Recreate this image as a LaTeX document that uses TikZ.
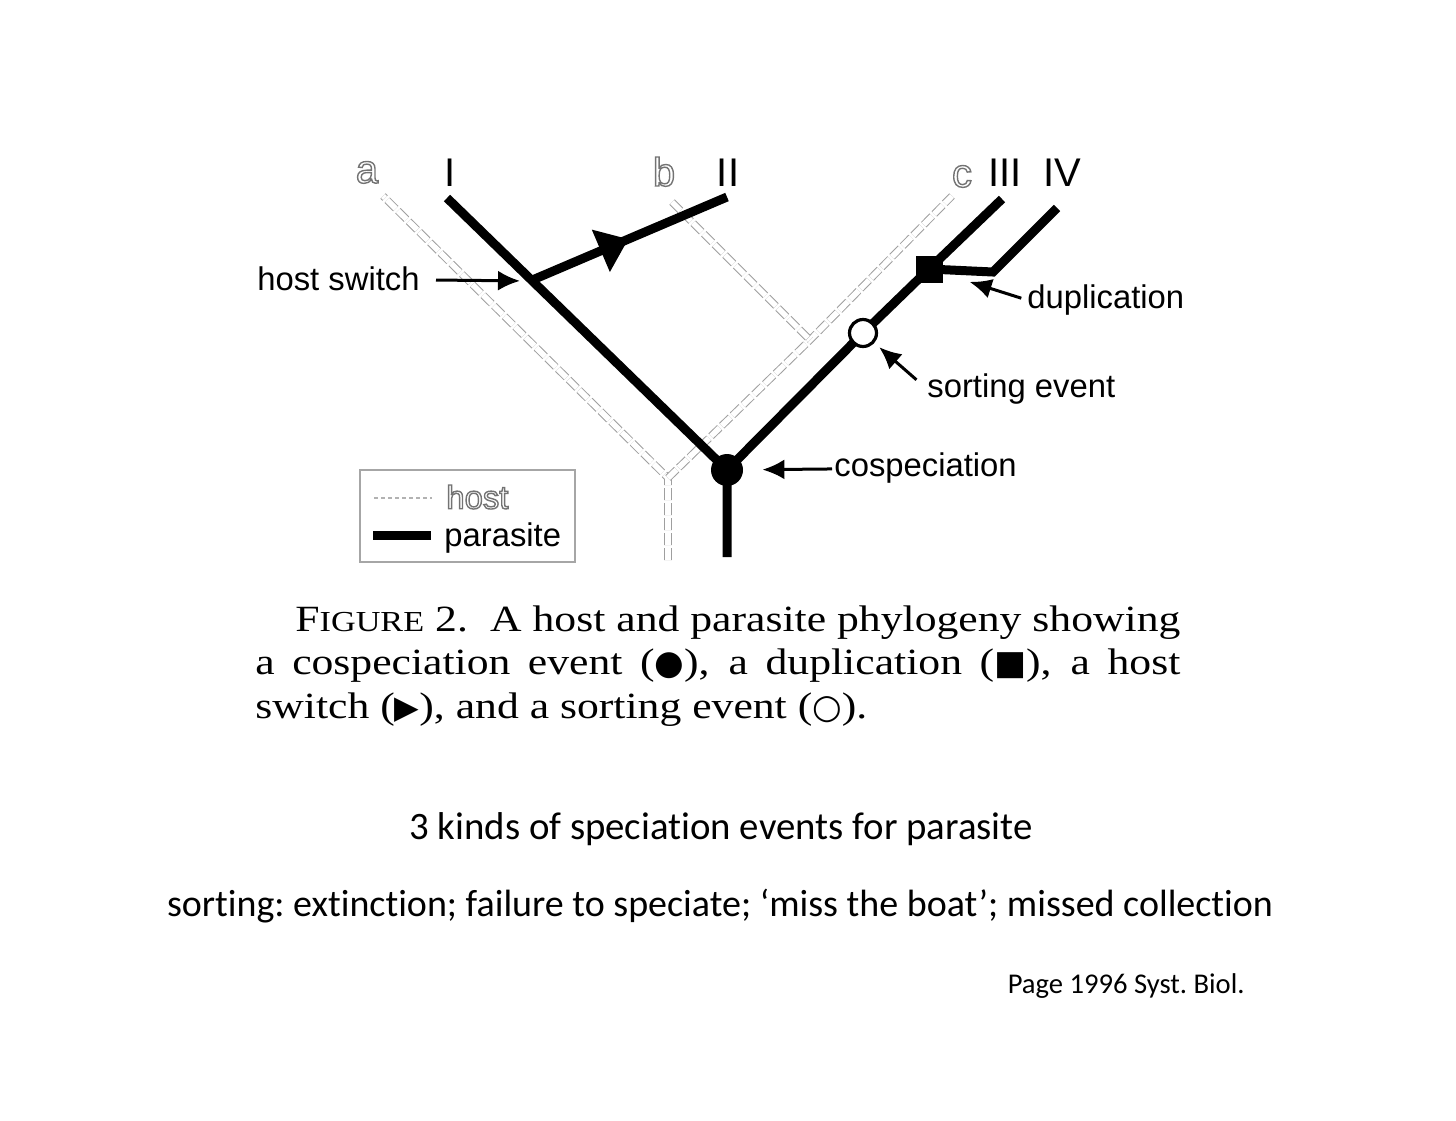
\documentclass[tikz,border=0pt]{standalone}
\usepackage{fontspec}
\newfontfamily\figfont{Liberation Sans}
\newfontfamily\capfont[FakeStretch=1.18]{Liberation Serif}
\newfontfamily\symfont{DejaVu Sans}
\newfontfamily\slidefont[Ligatures=NoCommon]{Carlito}
\usetikzlibrary{arrows.meta,decorations.markings}
\newcommand{\hollow}[1]{\special{pdf:code q 1 Tr 0.7 w 0.45 G}#1\special{pdf:code Q}}

\tikzset{
  parasite/.style={line width=4.5pt},
  host/.style={draw=gray!75, line width=0.5pt, double=white, double distance=2.8pt, dash pattern=on 6pt off 1.5pt},
  taxon/.style={font=\figfont\fontsize{20}{20}\selectfont, inner sep=0pt, anchor=base},
  evlabel/.style={font=\figfont\fontsize{16.4}{18}\selectfont, inner sep=0pt},
  callout/.style={-{Latex[length=11pt,width=10pt]}, line width=1.5pt},
  switch/.style={decoration={markings, mark=at position 0.5 with {\arrow{Triangle[length=15pt,width=22pt]}}}, postaction={decorate}},
  slide/.style={font=\slidefont\fontsize{19.4}{21}\selectfont\frenchspacing, inner sep=0pt},
}

\begin{document}
\begin{tikzpicture}[x=0.5pt,y=-0.5pt]
    \useasboundingbox (0,0) rectangle (1456,1120);

    % host
    \coordinate (hroot) at (668,560);
    \coordinate (hfork) at (668,478);
    \coordinate (ha) at (383,196);
    \coordinate (hb) at (672,202);
    \coordinate (hbc) at (810,340);
    \coordinate (hc) at (952,196);
    \draw[host] (hroot) -- (hfork) -- (ha);
    \draw[host] (hfork) -- (hbc) -- (hc);
    \draw[host] (hb) -- (hbc);

    % parasite
    \node[circle, fill, inner sep=0pt, minimum size=16pt] (cosp) at (727,470) {};
    \node[circle, draw, fill=white, line width=1.6pt, inner sep=0pt, outer sep=0pt, minimum size=13.5pt] (sort) at (863,333) {};
    \node[fill, inner sep=0pt, minimum size=13.5pt] (dup) at (929,269) {};
    \coordinate (proot) at (727,557);
    \coordinate (pI) at (447,198);
    \coordinate (pII) at (727,197);
    \coordinate (pIII) at (1002,199);
    \coordinate (pIVa) at (993,272);
    \coordinate (pIV) at (1057,208);
    \coordinate (hs) at (530,281);
    \draw[parasite] (proot) -- (cosp.center) -- (pI);
    \draw[parasite] (cosp.center) -- (sort);
    \draw[parasite] (sort) -- (dup.center) -- (pIII);
    \draw[parasite] (dup.center) -- (pIVa) -- (pIV);
    \draw[parasite, switch] (hs) -- (pII);

    \node[taxon] (la) at (367,183) {\hollow{a}};
    \node[taxon] (lI) at (450,186) {I};
    \node[taxon] (lb) at (664,186) {\hollow{b}};
    \node[taxon] (lII) at (728,186) {II};
    \node[taxon] (lc) at (962,187) {\hollow{c}};
    \node[taxon] (lIII) at (1005,186) {III};
    \node[taxon] (lIV) at (1062,186) {IV};

    \node[evlabel, anchor=east] (hsl) at (420,279) {host switch};
    \node[evlabel, anchor=west] (dupl) at (1027,300) {duplication};
    \node[evlabel, anchor=west] (sortl) at (927,389) {sorting event};
    \node[evlabel, anchor=west] (cospl) at (834,468) {cospeciation};
    \draw[callout, shorten <=8pt, shorten >=5pt] (hsl) -- (hs);
    \draw[callout, shorten <=3pt, shorten >=14pt] (dupl.west) -- (dup);
    \draw[callout, shorten <=7pt, shorten >=4pt] (sortl.west) -- (sort);
    \draw[callout, shorten <=1pt, shorten >=9.5pt] (cospl) -- (cosp);

    % legend
    \node[draw=gray!70, line width=0.8pt, minimum width=107.5pt, minimum height=46pt, inner sep=0pt] (legend) at (467.5,516) {};
    \draw[gray!60, line width=1pt, dash pattern=on 2pt off 1.5pt] (374,498) -- (432,498);
    \node[evlabel, anchor=west] (lhost) at (446,497) {\hollow{host}};
    \draw[parasite] (373,535) -- (431,535);
    \node[evlabel, anchor=west] (lpar) at (444,538) {parasite};

    \node[anchor=north west, text width=462.5pt, align=justify, inner sep=0pt, font=\capfont\fontsize{18.5}{21.75}\selectfont] (caption) at (255,605)
        {\hspace*{20pt}F{\fontsize{14.5}{15}\selectfont IGURE} 2.\hspace{0.6em}A host and parasite phylogeny \mbox{showing}\linebreak
        a cospeciation event ({\symfont\fontsize{17}{15}\selectfont ●}), a duplication ({\symfont\fontsize{17}{15}\selectfont ■}), a host\linebreak
        switch ({\symfont\fontsize{16}{15}\selectfont ▶}), and a sorting event ({\symfont\fontsize{17}{15}\selectfont ○}).};

    \node[slide] (kinds) at (721,829) {3 kinds of speciation events for parasite};
    \node[slide, font=\slidefont\fontsize{19}{21}\selectfont\frenchspacing] (sortdef) at (720,906) {sorting: extinction; failure to speciate; ‘miss the boat’; missed collection};
    \node[slide, font=\slidefont\fontsize{14.3}{15}\selectfont\frenchspacing, anchor=east] (ref) at (1245,986) {Page 1996 Syst. Biol.};
\end{tikzpicture}
\end{document}
